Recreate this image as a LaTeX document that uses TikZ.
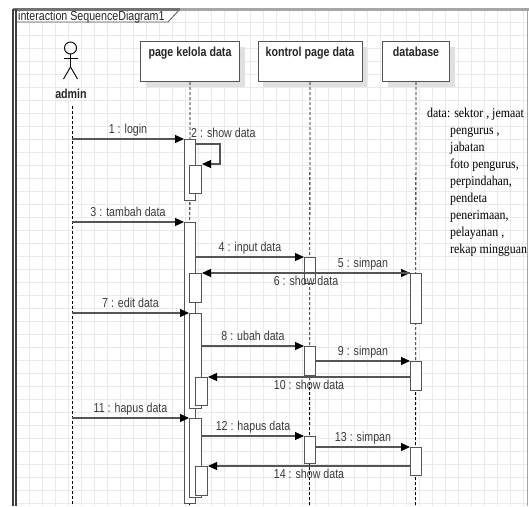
\documentclass[tikz,border=0pt]{standalone}
\usepackage{fontspec}
\setmainfont{Liberation Serif}[FakeStretch=0.88]
\setsansfont{Liberation Sans}[FakeStretch=0.82]
\usetikzlibrary{arrows.meta,shadows}
\definecolor{lnc}{HTML}{555555}
\definecolor{txc}{HTML}{3A3A3A}
\definecolor{gridc}{HTML}{EAEAEA}
\begin{document}
\begin{tikzpicture}[x=1pt,y=-1pt,
  font=\sffamily\fontsize{13}{15}\selectfont,
  gridln/.style={draw=gridc, line width=0.8pt},
  lbox/.style={draw=lnc, fill=white, line width=1pt, inner sep=0, anchor=north west,
    minimum height=40pt,
    drop shadow={shadow xshift=5pt, shadow yshift=-5pt, fill=black!12, opacity=1}},
  boxlbl/.style={anchor=north, yshift=-5.5pt, inner sep=0pt, text=black!85,
    font=\sffamily\bfseries\fontsize{13}{15}\selectfont},
  bar/.style={draw=lnc, fill=white, line width=1pt, inner sep=0, anchor=north west, minimum width=11pt},
  nbar/.style={bar, minimum width=12pt},
  lifeln/.style={draw=black, line width=0.8pt, dash pattern=on 3pt off 2pt},
  msg/.style={draw=lnc, line width=1.1pt, -{Triangle[length=9pt,width=8pt,color=black]}},
  mlbl/.style={text=txc, inner sep=2pt, text height=9.5pt, text depth=2.7pt}]
\useasboundingbox (0,0) rectangle (529,506);
% grid
\foreach \gx in {16,29,...,527} \draw[gridln] (\gx,10) -- (\gx,506);
\foreach \gy in {22,35,...,506} \draw[gridln] (16,\gy) -- (527,\gy);
% frame
\draw[lnc, fill=white, line width=0.8pt] (16,9) -- (16,22) -- (168,22) -- (180,9);
\node[anchor=base west, inner sep=0, text=black!85, font=\sffamily\fontsize{13}{15}\selectfont] (tabtxt) at (18,20) {interaction SequenceDiagram1};
\draw[line width=2.5pt, black!55] (13,9.5) -- (180,9.5);
\draw[line width=2.5pt, black!35] (180,9.5) -- (529,9.5);
\draw[line width=1.3pt, black!75] (13,9) -- (13,506);
\draw[line width=1.3pt, black!75] (16,9) -- (16,506);
\draw[line width=1pt, black!35] (527,9) -- (527,506);
% actor
\node[circle, draw=black, minimum size=12pt, inner sep=0, line width=0.9pt] (head) at (70.5,48) {};
\coordinate (hip) at (70.5,67);
\draw[line width=0.9pt] (head.south) -- (hip);
\draw[line width=0.9pt] (63.5,58.5) -- (77.5,58.5);
\draw[line width=0.9pt] (hip) -- (63.5,79);
\draw[line width=0.9pt] (hip) -- (77.5,79);
\node[inner sep=0, text=black!85, font=\sffamily\bfseries\fontsize{13}{15}\selectfont] (adminlbl) at (71,94) {admin};
\coordinate (lA) at (72,106);
\coordinate (lAend) at (72,506);
% lifeline boxes
\node[lbox, minimum width=99pt, label={[boxlbl]north:page kelola data}] (pg) at (140,41) {};
\node[lbox, minimum width=104pt, label={[boxlbl]north:kontrol page data}] (kt) at (257.5,41) {};
\node[lbox, minimum width=67pt, label={[boxlbl]north:database}] (db) at (382,41) {};
\coordinate (pgend) at (189.5,506);
\coordinate (ktend) at (309.5,506);
\coordinate (dbend) at (415.5,506);
% lifelines
\draw[lifeln] (lA) -- (lAend);
\draw[lifeln] (pg.south) -- (pgend);
\draw[lifeln] (kt.south) -- (ktend);
\draw[lifeln] (db.south) -- (dbend);
% activation bars
\node[bar, minimum height=61pt] (b1) at (184,139) {};
\node[nbar, minimum height=28pt] (b1n) at (189,165) {};
\node[bar, minimum height=281pt] (bA) at (184,222) {};
\node[nbar, minimum height=29pt] (b6) at (189,273) {};
\node[nbar, minimum height=95pt] (bB) at (189,313) {};
\node[nbar, minimum height=28pt] (b10) at (195,377) {};
\node[nbar, minimum height=79pt] (bD) at (189,418) {};
\node[nbar, minimum height=29pt] (b14) at (195,466) {};
\node[bar, minimum height=26pt] (k1) at (304,257) {};
\node[bar, minimum height=29pt] (k2) at (304,346) {};
\node[bar, minimum height=27pt] (k3) at (304,436) {};
\node[bar, minimum height=50pt] (d1) at (410,273) {};
\node[bar, minimum height=29pt] (d2) at (410,361) {};
\node[bar, minimum height=28pt] (d3) at (410,447) {};
% messages
\draw[msg] (lA |- b1.north) -- node[mlbl, above]{1 : login} (b1.north west);
\draw[msg] ([yshift=-5pt]b1.north east) -- ++(24,0) |- ([yshift=1pt]b1n.north east);
\node[text=txc, anchor=base west, inner sep=0] (m2) at ([xshift=-5pt,yshift=2pt]b1.north east) {2 : show data};
\draw[msg] (lA |- bA.north) -- node[mlbl, above]{3 : tambah data} (bA.north west);
\draw[msg] (bA.east |- k1.north) -- node[mlbl, above]{4 : input data} (k1.north west);
\draw[msg] (k1.east |- d1.north) -- node[mlbl, above]{5 : simpan} (d1.north west);
\draw[msg] (d1.north west) -- node[mlbl, below]{6 : show data} (b6.north east);
\draw[msg] (lA |- bB.north) -- node[mlbl, above]{7 : edit data} (bB.north west);
\draw[msg] (bB.east |- k2.north) -- node[mlbl, above]{8 : ubah data} (k2.north west);
\draw[msg] (k2.east |- d2.north) -- node[mlbl, above]{9 : simpan} (d2.north west);
\draw[msg] (d2.west |- b10.north) -- node[mlbl, below]{10 : show data} (b10.north east);
\draw[msg] (lA |- bD.north) -- node[mlbl, above]{11 : hapus data} (bD.north west);
\draw[msg] (bD.east |- k3.north) -- node[mlbl, above]{12 : hapus data} (k3.north west);
\draw[msg] (k3.east |- d3.north) -- node[mlbl, above]{13 : simpan} (d3.north west);
\draw[msg] (d3.west |- b14.north) -- node[mlbl, below]{14 : show data} (b14.north east);
% note
\node[anchor=north west, align=left, inner sep=0, text=black,
  font=\rmfamily\fontsize{13.5}{17}\selectfont] (datanote) at (427,108)
  {data: sektor , jemaat\\
   \hspace*{23pt}pengurus ,\\
   \hspace*{23pt}jabatan\\
   \hspace*{23pt}foto pengurus,\\
   \hspace*{23pt}perpindahan,\\
   \hspace*{23pt}pendeta\\
   \hspace*{23pt}penerimaan,\\
   \hspace*{23pt}pelayanan ,\\
   \hspace*{23pt}rekap mingguan};
\end{tikzpicture}
\end{document}
